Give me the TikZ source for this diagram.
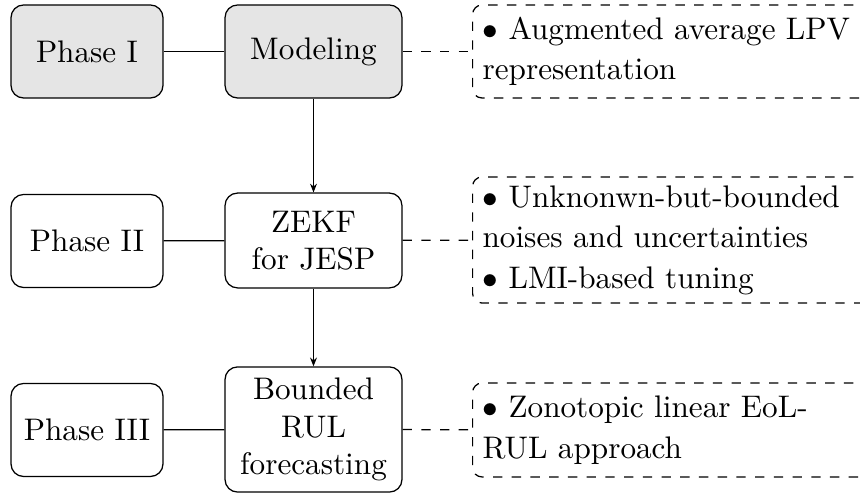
\documentclass[tikz,border=0pt]{standalone}
\usetikzlibrary{arrows.meta}
\begin{document}
\begin{tikzpicture}[x=0.3205pt, y=-0.3205pt,
  phasebox/.style={draw, rounded corners=4pt, minimum width=48.7pt, minimum height=29.8pt, inner sep=0pt, align=center},
  taskbox/.style={draw, rounded corners=4pt, minimum width=56.7pt, inner sep=0pt, align=center},
  notebox/.style={draw, dashed, rounded corners=3pt, anchor=west, minimum width=131pt, text width=124.6pt, inner xsep=3.2pt, inner ysep=0pt, align=left},
  shaded/.style={fill=gray!20},
  link/.style={draw},
  dlink/.style={draw, dashed},
  flow/.style={draw, -{Stealth[length=2.8pt,width=2.2pt]}}]
\clip (0,0) rectangle (860,493);
\node[phasebox, shaded] (p1) at (87,51.5) {Phase I};
\node[taskbox, shaded, minimum height=29.8pt] (t1) at (313.5,51.5) {Modeling};
\node[notebox, minimum height=29.8pt] (n1) at (472,51.5) {$\bullet$ Augmented average LPV\\[1pt]representation};

\node[phasebox] (p2) at (87,241) {Phase II};
\node[taskbox, minimum height=30.4pt] (t2) at (313.5,240.5) {ZEKF\\for JESP};
\node[notebox, minimum height=40.4pt] (n2) at (472,240) {$\bullet$ Unknonwn-but-bounded\\[1pt]noises and uncertainties\\[1pt]$\bullet$ LMI-based tuning};

\node[phasebox] (p3) at (87,430) {Phase III};
\node[taskbox, minimum height=40.1pt] (t3) at (313.5,429.5) {Bounded\\RUL\\forecasting};
\node[notebox, minimum height=30.1pt] (n3) at (472,430) {$\bullet$ Zonotopic linear EoL-\\[1pt]RUL approach};

\path[link] (p1) -- (t1);
\path[link] (p2) -- (t2);
\path[link] (p3) -- (t3);
\path[dlink] (t1) -- (n1);
\path[dlink] (t2) -- (n2);
\path[dlink] (t3) -- (n3);
\path[flow] (t1) -- (t2);
\path[flow] (t2) -- (t3);
\end{tikzpicture}
\end{document}
